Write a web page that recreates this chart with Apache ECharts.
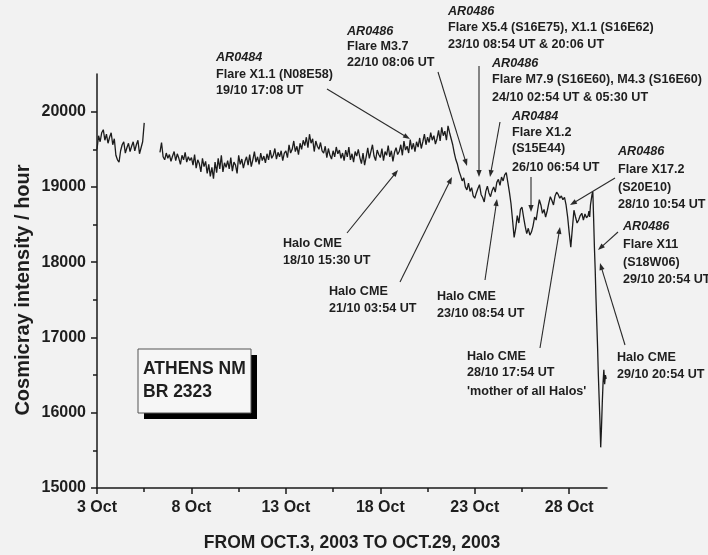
<!DOCTYPE html>
<html><head><meta charset="utf-8">
<script src="https://cdn.jsdelivr.net/npm/echarts@6/dist/echarts.min.js"></script>
<style>html,body{margin:0;padding:0;background:#f2f2f2}#c{width:708px;height:555px}</style>
</head><body><div id="c"></div>
<script>
// ---- axis ticks ----
const majorDayTicks = [3, 8, 13, 18, 23, 28];
const minorDayTicks = [5.5, 10.5, 15.5, 20.5, 25.5];
const majorCountTicks = [15000, 16000, 17000, 18000, 19000, 20000];
const minorCountTicks = [15500, 16500, 17500, 18500, 19500];

// ---- data: day of October (fractional) -> counts/hour ----
const seg1Start = 3.0, seg1Step = 1 / 12; // 2-hourly, Oct 3 00h .. Oct 5 12h
const seg1Values = [
  19500, 19680, 19600, 19720, 19760, 19620, 19700, 19580, 19660, 19720, 19560, 19640,
  19420, 19360, 19330, 19480, 19560, 19600, 19450, 19520, 19580, 19470, 19540, 19600,
  19480, 19560, 19620, 19440, 19520, 19600, 19850];

const seg2Start = 6 + 8 / 24, seg2Step = 1 / 12; // 2-hourly, Oct 6 08h .. Oct 28 22h
const seg2Values = [
  19460, 19590, 19400, 19360, 19450, 19380, 19430, 19340,
  19410, 19470, 19350, 19440, 19380, 19300, 19420, 19360, 19460, 19330, 19400, 19350,
  19390, 19290, 19430, 19250, 19360, 19310, 19200, 19380, 19270, 19340, 19180, 19300,
  19140, 19260, 19110, 19330, 19190, 19380, 19240, 19420, 19200, 19320, 19260, 19350,
  19240, 19390, 19210, 19330, 19290, 19180, 19420, 19300, 19370, 19250, 19340, 19400,
  19290, 19430, 19270, 19360, 19470, 19330, 19400, 19300, 19450, 19350, 19410, 19320,
  19440, 19360, 19490, 19380, 19420, 19510, 19370, 19460, 19400, 19480, 19350, 19450,
  19480, 19390, 19560, 19450, 19500, 19610, 19470, 19540, 19430, 19580, 19500, 19620,
  19550, 19660, 19520, 19700, 19580, 19640, 19470, 19610, 19540, 19500, 19590, 19480,
  19450, 19540, 19390, 19510, 19420, 19370, 19480, 19400, 19530, 19440, 19490, 19380,
  19450, 19350, 19490, 19400, 19530, 19360, 19440, 19330, 19470, 19410, 19500, 19390,
  19310, 19450, 19290, 19400, 19520, 19380, 19470, 19560, 19410, 19350, 19490, 19430,
  19390, 19510, 19350, 19470, 19420, 19550, 19400, 19480, 19340, 19460, 19520, 19430,
  19470, 19560, 19420, 19610, 19490, 19540, 19450, 19630, 19500, 19580, 19470, 19600,
  19530, 19650, 19510, 19600, 19700, 19560, 19660, 19590, 19720, 19620, 19680, 19570,
  19640, 19750, 19610, 19790, 19680, 19740, 19620, 19810, 19720, 19640, 19560, 19450,
  19360, 19300, 19210, 19150, 19080, 19120, 19000, 18960, 19050, 18940, 18990, 18880,
  18850, 18920, 18980, 19030, 18900, 18860, 18800, 18940, 19010, 18920, 18870, 18950,
  19000, 18930, 19060, 19100, 19020, 19130, 19080, 19160, 19190, 19060, 18930, 18780,
  18560, 18330, 18450, 18620, 18520, 18700, 18730, 18600, 18480, 18380, 18450, 18360,
  18400, 18480, 18600, 18560, 18700, 18830, 18760, 18650, 18700, 18600, 18680, 18780,
  18870, 18820, 18760, 18880, 18930, 18900, 18850, 18880, 18830, 18860, 18760, 18600,
  18390, 18200, 18450, 18690, 18600, 18520, 18560, 18620, 18650, 18560, 18640, 18590];

const seg3Start = 29.0, seg3Step = 1 / 24; // hourly, Oct 29
const seg3Values = [18620, 18680, 18600, 18760, 18830, 18900, 18940, 18580,
  18200, 17900, 17520, 17200, 16880, 16500, 16200, 15900,
  15540, 15800, 16130, 16400, 16570, 16380, 16500, 16450];

function pairs(start, step, vals) { return vals.map((v, i) => [start + i * step, v]); }
const seriesA = pairs(seg1Start, seg1Step, seg1Values);
const seriesB = pairs(seg2Start, seg2Step, seg2Values).concat(pairs(seg3Start, seg3Step, seg3Values));

// ---- annotation layout ----
const FONT = '"Liberation Sans", Arial, sans-serif';
const INK = '#1e1e1e';
const notes = [
  {x: 216, rows: [['AR0484', 58, 1], ['Flare X1.1 (N08E58)', 75], ['19/10 17:08 UT', 91]]},
  {x: 347, rows: [['AR0486', 32, 1], ['Flare M3.7', 47], ['22/10 08:06 UT', 63]]},
  {x: 448, rows: [['AR0486', 12, 1], ['Flare X5.4 (S16E75), X1.1 (S16E62)', 28], ['23/10 08:54 UT & 20:06 UT', 45]]},
  {x: 492, rows: [['AR0486', 64, 1], ['Flare M7.9 (S16E60), M4.3 (S16E60)', 80], ['24/10 02:54 UT & 05:30 UT', 98]]},
  {x: 512, rows: [['AR0484', 117, 1], ['Flare X1.2', 133], ['(S15E44)', 149], ['26/10 06:54 UT', 168]]},
  {x: 618, rows: [['AR0486', 152, 1], ['Flare X17.2', 170], ['(S20E10)', 188], ['28/10 10:54 UT', 205]]},
  {x: 623, rows: [['AR0486', 227, 1], ['Flare X11', 245], ['(S18W06)', 263], ['29/10 20:54 UT', 280]]},
  {x: 283, rows: [['Halo CME', 244], ['18/10 15:30 UT', 261]]},
  {x: 329, rows: [['Halo CME', 292], ['21/10 03:54 UT', 309]]},
  {x: 437, rows: [['Halo CME', 297], ['23/10 08:54 UT', 314]]},
  {x: 467, rows: [['Halo CME', 357], ['28/10 17:54 UT', 373], ["'mother of all Halos'", 392]]},
  {x: 617, rows: [['Halo CME', 358], ['29/10 20:54 UT', 375]]}
];
const arrows = [[327,89,410,139],[438,72,467,166],[479,66,479,177],[500,122,490,177],
  [531,177,531,212],[615,178,570,205],[618,232,598,250],[347,233,398,170],
  [400,282,452,177],[485,280,497,199],[540,348,560,227],[625,345,600,263]];

const graphics = [];
notes.forEach(n => n.rows.forEach(r => {
  graphics.push({type: 'text', z: 100, style: {x: n.x, y: r[1], text: r[0], align: 'left', verticalAlign: 'middle',
    font: (r[2] ? 'italic ' : '') + 'bold 12.6px ' + FONT, fill: INK}});
}));
arrows.forEach(a => {
  const [x1, y1, x2, y2] = a;
  const dx = x2 - x1, dy = y2 - y1, L = Math.hypot(dx, dy);
  const ux = dx / L, uy = dy / L, nx = -uy, ny = ux;
  const hl = 7, hw = 2.6;
  graphics.push({type: 'line', z: 100, shape: {x1, y1, x2: x2 - ux * 4, y2: y2 - uy * 4},
    style: {stroke: '#2a2a2a', lineWidth: 1.1}});
  graphics.push({type: 'polygon', z: 100, shape: {points: [[x2, y2],
    [x2 - ux * hl + nx * hw, y2 - uy * hl + ny * hw], [x2 - ux * hl - nx * hw, y2 - uy * hl - ny * hw]]},
    style: {fill: '#2a2a2a'}});
});
// station box
graphics.push({type: 'rect', z: 100, shape: {x: 144, y: 355, width: 113, height: 64}, style: {fill: '#000'}});
graphics.push({type: 'rect', z: 101, shape: {x: 138, y: 349, width: 113, height: 64}, style: {fill: '#f6f6f6', stroke: '#555', lineWidth: 1}});
graphics.push({type: 'text', z: 102, style: {x: 143, y: 369, text: 'ATHENS NM', font: 'bold 17.5px ' + FONT, fill: INK, verticalAlign: 'middle'}});
graphics.push({type: 'text', z: 102, style: {x: 143, y: 392, text: 'BR 2323', font: 'bold 17.5px ' + FONT, fill: INK, verticalAlign: 'middle'}});
// axis titles
graphics.push({type: 'text', z: 100, x: 23, y: 290, rotation: Math.PI / 2,
  style: {x: 0, y: 0, text: 'Cosmicray intensity / hour', font: 'bold 20px ' + FONT, fill: INK, align: 'center', verticalAlign: 'middle'}});
graphics.push({type: 'text', z: 100, style: {x: 352, y: 543, text: 'FROM OCT.3, 2003 TO OCT.29, 2003',
  font: 'bold 17.5px ' + FONT, fill: INK, align: 'center', verticalAlign: 'middle'}});

const axisLine = {show: true, onZero: false, lineStyle: {color: '#1a1a1a', width: 1.5}};
const tickStyle = {color: '#1a1a1a', width: 1.5};
const labelStyle = {color: INK, fontSize: 16, fontWeight: 'bold', fontFamily: FONT};

const chart = echarts.init(document.getElementById('c'), null, {renderer: 'canvas'});
chart.setOption({
  animation: false,
  backgroundColor: '#f2f2f2',
  grid: {left: 97, right: 101, top: 74, bottom: 67},
  xAxis: [
    {type: 'value', min: 3, max: 30, position: 'bottom', axisLine,
      axisTick: {show: true, customValues: majorDayTicks, length: 6, lineStyle: tickStyle},
      axisLabel: Object.assign({customValues: majorDayTicks, margin: 12, formatter: v => v + ' Oct'}, labelStyle),
      splitLine: {show: false}},
    {type: 'value', min: 3, max: 30, position: 'bottom', axisLine: {show: false},
      axisTick: {show: true, customValues: minorDayTicks, length: 4, lineStyle: tickStyle},
      axisLabel: {show: false}, splitLine: {show: false}}
  ],
  yAxis: [
    {type: 'value', min: 15000, max: 20500, position: 'left', axisLine,
      axisTick: {show: true, customValues: majorCountTicks, length: 6, lineStyle: tickStyle},
      axisLabel: Object.assign({customValues: majorCountTicks, margin: 11, formatter: v => String(v)}, labelStyle),
      splitLine: {show: false}},
    {type: 'value', min: 15000, max: 20500, position: 'left', axisLine: {show: false},
      axisTick: {show: true, customValues: minorCountTicks, length: 4, lineStyle: tickStyle},
      axisLabel: {show: false}, splitLine: {show: false}}
  ],
  series: [
    {type: 'line', data: seriesA, showSymbol: false, lineStyle: {color: '#1c1c1c', width: 1.3}, z: 5},
    {type: 'line', data: seriesB, showSymbol: false, lineStyle: {color: '#1c1c1c', width: 1.3}, z: 5}
  ],
  graphic: graphics
});
</script></body></html>
